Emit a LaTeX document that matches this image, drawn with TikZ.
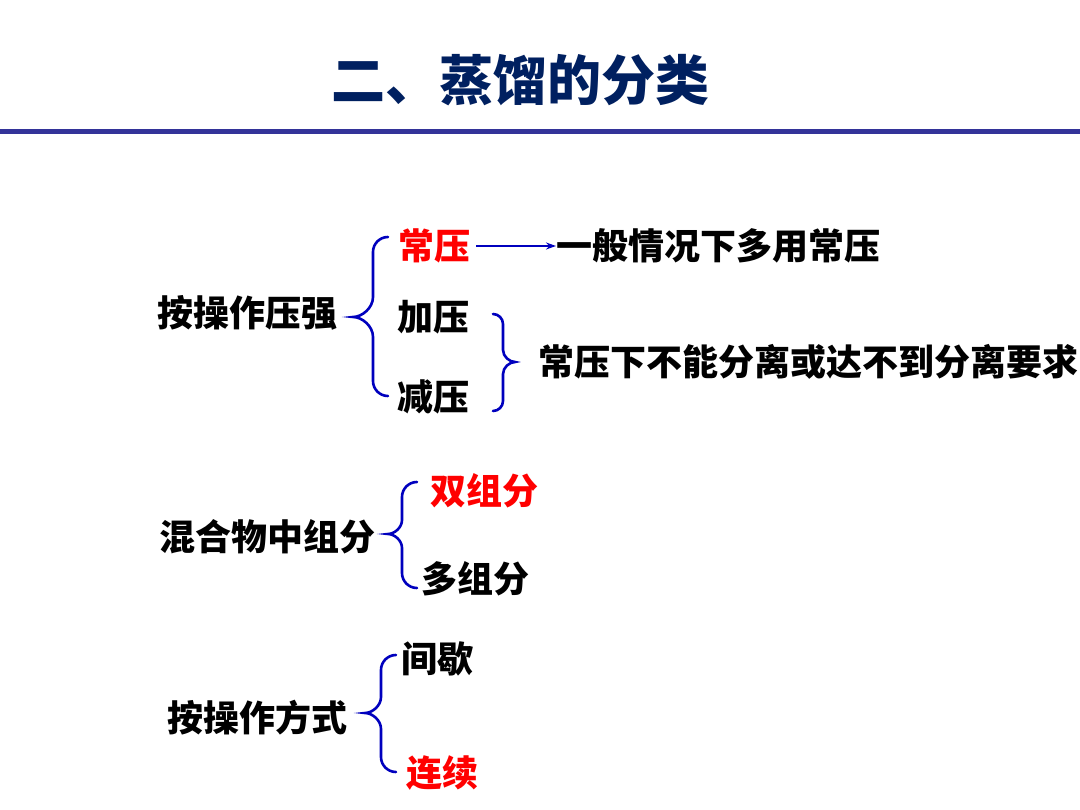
\documentclass[tikz,border=0pt]{standalone}
\usepackage{fontspec}
\newfontfamily\cjk{Noto Sans CJK SC}
\usetikzlibrary{arrows.meta}
\definecolor{navy}{RGB}{0,32,96}
\definecolor{rulec}{RGB}{51,51,153}
\definecolor{brblue}{RGB}{0,0,190}
\definecolor{redc}{RGB}{255,0,0}
\newcommand{\LeftBr}[6]{%
 \draw[brc] ({#1+#5},#2) .. controls ({#1+0.448*#5},#2) and (#1,{#2+0.448*#5}) .. (#1,{#2+#5})
  -- (#1,{#3-#6}) .. controls (#1,{#3-0.448*#6}) and ({#1-0.552*#6},#3) .. ({#1-#6},#3)
  .. controls ({#1-0.552*#6},#3) and (#1,{#3+0.448*#6}) .. (#1,{#3+#6})
  -- (#1,{#4-#5}) .. controls (#1,{#4-0.448*#5}) and ({#1+0.448*#5},#4) .. ({#1+#5},#4);}
\newcommand{\RightBr}[6]{%
 \draw[brc] ({#1-#5},#2) .. controls ({#1-0.448*#5},#2) and (#1,{#2+0.448*#5}) .. (#1,{#2+#5})
  -- (#1,{#3-#6}) .. controls (#1,{#3-0.448*#6}) and ({#1+0.552*#6},#3) .. ({#1+#6},#3)
  .. controls ({#1+0.552*#6},#3) and (#1,{#3+0.448*#6}) .. (#1,{#3+#6})
  -- (#1,{#4-#5}) .. controls (#1,{#4-0.448*#5}) and ({#1-0.448*#5},#4) .. ({#1-#5},#4);}
\begin{document}
\begin{tikzpicture}[x=1pt,y=-1pt,
  txt/.style={anchor=west,inner sep=0pt,font=\cjk\bfseries\fontsize{36}{40}\selectfont,text=black},
  red/.style={text=redc},
  brc/.style={draw=brblue,line width=2.6pt,line cap=round},
  arr/.style={draw=brblue,line width=1.6pt,-{Stealth[length=10pt,width=7pt]}}]
\useasboundingbox (0,0) rectangle (1080,810);
\fill[white] (0,0) rectangle (1080,810);
% title
\node[inner sep=0pt,font=\cjk\bfseries\fontsize{54}{60}\selectfont,text=navy] (title) at (520,80) {二、蒸馏的分类};
\fill[rulec] (0,129.5) rectangle (1080,134.5);
% group 1
\node[txt] (g1) at (157,313) {按操作压强};
\node[txt,red] (cy) at (398,246) {常压};
\node[txt] (jy) at (397,317) {加压};
\node[txt] (jny) at (397,397) {减压};
\node[txt] (yb) at (556,246) {一般情况下多用常压};
\node[txt] (cyx) at (538,362) {常压下不能分离或达不到分离要求};
\draw[arr,shorten <=6pt] (cy.east) -- (cy.east -| yb.west);
\LeftBr{373}{237}{317}{396}{15}{20}
\RightBr{503}{314}{362}{411}{10}{12}
% group 2
\node[txt] (g2) at (159,537) {混合物中组分};
\node[txt,red] (szf) at (430,491) {双组分};
\node[txt] (dzf) at (421,579) {多组分};
\LeftBr{402}{482}{534}{588}{15}{14}
% group 3
\node[txt] (g3) at (167,718) {按操作方式};
\node[txt] (jx) at (401,659) {间歇};
\node[txt,red] (lx) at (406,773) {连续};
\LeftBr{381}{655}{713}{772}{15}{16}
\end{tikzpicture}
\end{document}
